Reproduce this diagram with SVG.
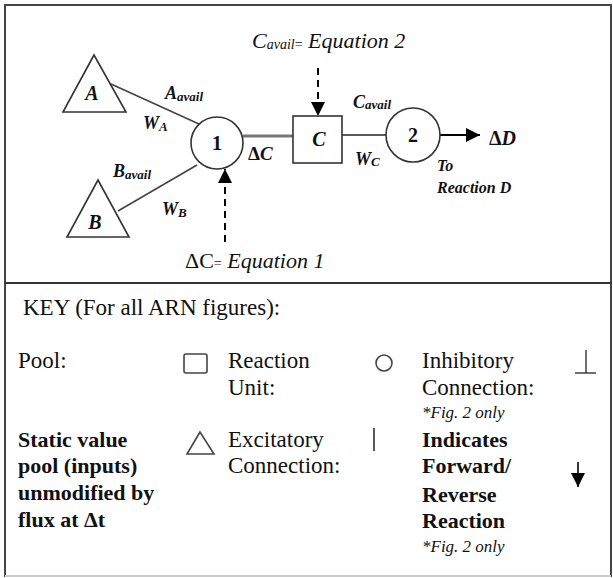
<svg xmlns="http://www.w3.org/2000/svg" width="613" height="578" viewBox="0 0 613 578">
<style>
text{font-family:'Liberation Serif','DejaVu Serif','Noto Serif',serif;fill:#111}
.bi{font-weight:bold;font-style:italic}
.b{font-weight:bold}
.i{font-style:italic}
.node{fill:#fff;stroke:#333;stroke-width:1.6}
.key{font-size:23px}
.keyb{font-size:22px;font-weight:bold}
.note{font-size:17px;font-style:italic}
</style>
<defs>
<marker id="ah" viewBox="0 0 10 10" refX="10" refY="5" markerWidth="14" markerHeight="14" markerUnits="userSpaceOnUse" orient="auto">
<path d="M0,0 L10,5 L0,10 z" fill="#000"/>
</marker>
</defs>
<rect x="0" y="0" width="613" height="578" fill="#fff"/>
<g id="frame">
<rect x="5" y="5" width="606" height="571" fill="none" stroke="#444" stroke-width="2"/>
<line x1="5" y1="283" x2="611" y2="283" stroke="#333" stroke-width="2"/>
<line x1="5" y1="576" x2="611" y2="576" stroke="#ccc" stroke-width="2"/>
</g>
<g id="connectors">
<line x1="111" y1="84" x2="199" y2="124" stroke="#444" stroke-width="1.6"/>
<line x1="118" y1="211" x2="197" y2="165" stroke="#444" stroke-width="1.6"/>
<line x1="243" y1="136" x2="293" y2="136" stroke="#777" stroke-width="3"/>
<line x1="342" y1="135" x2="387" y2="135" stroke="#222" stroke-width="1.6"/>
<line x1="440" y1="135" x2="480" y2="135" stroke="#000" stroke-width="2" marker-end="url(#ah)"/>
<line x1="225" y1="242" x2="225" y2="169" stroke="#000" stroke-width="2" stroke-dasharray="7,5" marker-end="url(#ah)"/>
<line x1="318" y1="68" x2="318" y2="116" stroke="#000" stroke-width="2" stroke-dasharray="7,5" marker-end="url(#ah)"/>
</g>
<g id="node-A">
<polygon class="node" points="94,55 63,112 126,112"/>
<text x="92" y="100" class="bi" font-size="20" text-anchor="middle">A</text>
</g>
<g id="node-B">
<polygon class="node" points="98,180 67,237 129,237"/>
<text x="95" y="229" class="bi" font-size="20" text-anchor="middle">B</text>
</g>
<g id="node-1">
<circle class="node" cx="217" cy="143" r="26"/>
<text x="217" y="150" class="b" font-size="20" text-anchor="middle">1</text>
</g>
<g id="node-C">
<rect class="node" x="293" y="116" width="49" height="47"/>
<text x="319" y="146" class="bi" font-size="20" text-anchor="middle">C</text>
</g>
<g id="node-2">
<circle class="node" cx="413" cy="135" r="27"/>
<text x="413" y="142" class="b" font-size="20" text-anchor="middle">2</text>
</g>
<g id="labels">
<text x="165" y="99" class="bi" font-size="18">A<tspan font-size="13" dy="2">avail</tspan></text>
<text x="143" y="129" class="bi" font-size="18">W<tspan font-size="13" dy="2">A</tspan></text>
<text x="113" y="177" class="bi" font-size="18">B<tspan font-size="13" dy="2">avail</tspan></text>
<text x="162" y="215" class="bi" font-size="18">W<tspan font-size="13" dy="2">B</tspan></text>
<text x="248" y="160" class="b" font-size="19">Δ<tspan font-style="italic">C</tspan></text>
<text x="353" y="108" class="bi" font-size="18">C<tspan font-size="13" dy="1">avail</tspan></text>
<text x="355" y="165" class="bi" font-size="18">W<tspan font-size="13" dy="1">C</tspan></text>
<text x="489" y="145" class="b" font-size="20">Δ<tspan font-style="italic">D</tspan></text>
<text x="437" y="171" class="bi" font-size="16">To</text>
<text x="437" y="193" class="bi" font-size="16">Reaction D</text>
<text x="252" y="48" font-size="22"><tspan font-style="italic">C</tspan><tspan font-size="14" font-style="italic" dy="1">avail</tspan><tspan font-size="14">=</tspan><tspan font-style="italic" dy="-1"> Equation 2</tspan></text>
<text x="185" y="268" font-size="22">ΔC<tspan font-size="14">=</tspan><tspan font-style="italic"> Equation 1</tspan></text>
</g>
<g id="key">
<text x="23" y="315" class="key">KEY (For all ARN figures):</text>
<text x="18" y="368" class="key">Pool:</text>
<rect x="184" y="354" width="23" height="19" rx="2" fill="none" stroke="#444" stroke-width="1.6"/>
<text x="228" y="368" class="key">Reaction</text>
<text x="228" y="395" class="key">Unit:</text>
<circle cx="384" cy="363" r="8" fill="none" stroke="#444" stroke-width="1.6"/>
<text x="422" y="368" class="key">Inhibitory</text>
<text x="422" y="395" class="key">Connection:</text>
<text x="422" y="418" class="note">*Fig. 2 only</text>
<line x1="586" y1="350" x2="586" y2="373" stroke="#333" stroke-width="1.4"/>
<line x1="575" y1="373" x2="596" y2="373" stroke="#333" stroke-width="1.4"/>
<text x="18" y="447" class="keyb">Static value</text>
<text x="18" y="473" class="keyb">pool (inputs)</text>
<text x="18" y="500" class="keyb">unmodified by</text>
<text x="18" y="527" class="keyb">flux at Δt</text>
<polygon points="200,432 187,454 214,454" fill="none" stroke="#444" stroke-width="1.6"/>
<text x="228" y="447" class="key">Excitatory</text>
<text x="228" y="473" class="key">Connection:</text>
<line x1="374" y1="428" x2="374" y2="451" stroke="#333" stroke-width="1.6"/>
<text x="422" y="447" class="keyb">Indicates</text>
<text x="422" y="473" class="keyb">Forward/</text>
<text x="422" y="502" class="keyb">Reverse</text>
<text x="422" y="528" class="keyb">Reaction</text>
<text x="422" y="552" class="note">*Fig. 2 only</text>
<line x1="578" y1="462" x2="578" y2="487" stroke="#000" stroke-width="1.6" marker-end="url(#ah)"/>
</g>
</svg>
